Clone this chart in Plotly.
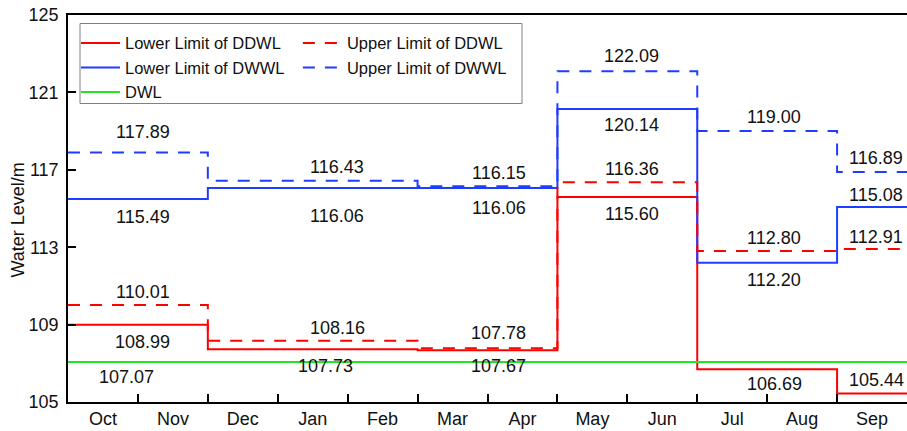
import numpy as np
import plotly.graph_objects as go

# ---------------- data ----------------
months = ["Oct", "Nov", "Dec", "Jan", "Feb", "Mar", "Apr", "May", "Jun", "Jul", "Aug", "Sep"]
period_lengths = [2, 3, 2, 2, 2, 1]          # months per operating period
lower_ddwl = [108.99, 107.73, 107.67, 115.60, 106.69, 105.44]
upper_ddwl = [110.01, 108.16, 107.78, 116.36, 112.80, 112.91]
lower_dwwl = [115.49, 116.06, 116.06, 120.14, 112.20, 115.08]
upper_dwwl = [117.89, 116.43, 116.15, 122.09, 119.00, 116.89]
dwl = 107.07
y_ticks = [105, 109, 113, 117, 121, 125]

# ---------------- derived ----------------
bounds = np.concatenate([[0], np.cumsum(period_lengths)]).astype(float)
mids = (bounds[:-1] + bounds[1:]) / 2
label_dx = [0.07, 0.35, 0.16, 0.06, 0.1, 0.06]  # label placement tweaks (months)

RED = "#FF0000"
BLUE = "#1F3DFF"
GREEN = "#22E622"
FONT = "Arial, Liberation Sans, sans-serif"
DASH = "12px,10px"


def step(vals):
    return list(bounds), list(vals) + [vals[-1]]


fig = go.Figure()

series = [
    ("Lower Limit of DDWL", lower_ddwl, RED, "solid", "legend"),
    ("Lower Limit of DWWL", lower_dwwl, BLUE, "solid", "legend"),
    ("Upper Limit of DDWL", upper_ddwl, RED, DASH, "legend2"),
    ("Upper Limit of DWWL", upper_dwwl, BLUE, DASH, "legend2"),
]
for name, vals, col, dash, leg in series:
    xs, ys = step(vals)
    fig.add_trace(go.Scatter(x=xs, y=ys, mode="lines", name=name,
                             line=dict(color=col, width=2, dash=dash, shape="hv"),
                             legend=leg, hoverinfo="skip"))

fig.add_trace(go.Scatter(x=[bounds[0], bounds[-1]], y=[dwl, dwl], mode="lines", name="DWL",
                         line=dict(color=GREEN, width=2), legend="legend", hoverinfo="skip"))

# ---------------- value labels ----------------
shifts = {
    "ud": [13, 13, 15, 13, 13, 12],
    "uw": [21, 14, 13, 15, 14, 14],
    "ld": [-17, -17, -16, -17, -15, 13],
    "lw": [-18, -28, -20, -16, -17, 12],
}
annots = []
for key, vals in [("ud", upper_ddwl), ("uw", upper_dwwl), ("ld", lower_ddwl), ("lw", lower_dwwl)]:
    for i, v in enumerate(vals):
        xshift = -12 if (key == "ld" and i == 1) else 0
        annots.append(dict(x=mids[i] + label_dx[i], y=v, xref="x", yref="y", text=f"{v:.2f}",
                           showarrow=False, yshift=shifts[key][i], xshift=xshift,
                           xanchor="center", yanchor="middle",
                           font=dict(size=18, color="#111111", family=FONT)))
annots.append(dict(x=mids[0], y=dwl, xref="x", yref="y", text=f"{dwl:.2f}", showarrow=False,
                   yshift=-15, xshift=-11, xanchor="center", yanchor="middle",
                   font=dict(size=18, color="#111111", family=FONT)))
annots.append(dict(x=0, y=0.5, xref="paper", yref="paper", text="Water Level/m", textangle=-90,
                   showarrow=False, xshift=-51, yshift=-12, xanchor="center", yanchor="middle",
                   font=dict(size=18, color="#111111", family=FONT)))

fig.update_layout(
    width=907, height=431,
    margin=dict(l=68, r=0, t=15, b=29, autoexpand=False),
    plot_bgcolor="white", paper_bgcolor="white",
    font=dict(family=FONT, size=18, color="#111111"),
    annotations=annots,
    showlegend=True,
    legend=dict(x=0.0095, y=0.972, xanchor="left", yanchor="top", bgcolor="rgba(0,0,0,0)",
                itemwidth=39,
                font=dict(size=16.5, family=FONT, color="#111111"), tracegroupgap=0),
    legend2=dict(x=0.274, y=0.972, xanchor="left", yanchor="top", bgcolor="rgba(0,0,0,0)",
                 itemwidth=39,
                 font=dict(size=16.5, family=FONT, color="#111111"), tracegroupgap=0),
    shapes=[dict(type="rect", xref="paper", yref="paper",
                 x0=(80 - 68) / 839, x1=(522 - 68) / 839,
                 y0=(402.5 - 104) / 387, y1=(402.5 - 24) / 387,
                 line=dict(color="#808080", width=1), fillcolor="rgba(0,0,0,0)")],
)

fig.update_xaxes(
    range=[bounds[0], bounds[-1]],
    tickmode="array", tickvals=[i + 0.5 for i in range(len(months))], ticktext=months,
    ticks="", showgrid=False, zeroline=False,
    showline=True, linecolor="black", linewidth=1.5, mirror=True,
    tickfont=dict(size=18, family=FONT, color="#111111"),
    minor=dict(tickmode="array", tickvals=list(range(1, len(months))), ticks="inside",
               ticklen=8, tickwidth=1.5, tickcolor="black", showgrid=False),
)
fig.update_yaxes(
    range=[y_ticks[0], y_ticks[-1]], tickmode="array", tickvals=y_ticks,
    ticks="inside", ticklen=8, tickwidth=1.5, tickcolor="black",
    showgrid=False, zeroline=False, showline=True, linecolor="black", linewidth=1.5,
    tickfont=dict(size=18, family=FONT, color="#111111"), ticklabelstandoff=4,
)

fig.write_html("out.html", config={"displayModeBar": False},
               post_script="document.body.style.margin='0';document.body.style.overflow='hidden';")
